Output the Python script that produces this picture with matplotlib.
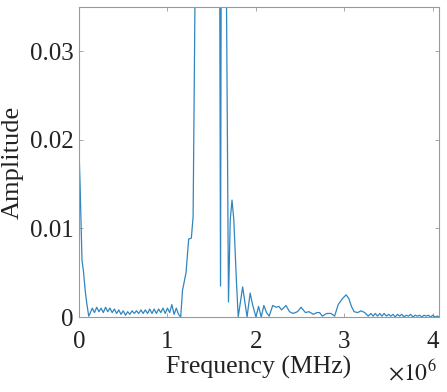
import numpy as np
import matplotlib.pyplot as plt

plt.rcParams['font.family'] = ['Liberation Serif', 'DejaVu Serif']
plt.rcParams['mathtext.fontset'] = 'stix'

# frequency in MHz, amplitude
f_low = [0.0, 0.012, 0.025, 0.034, 0.05, 0.07, 0.087, 0.11]
a_low = [0.0190, 0.0150, 0.0100, 0.0064, 0.0052, 0.0030, 0.0016, 0.0001]

f_noise = [0.125, 0.15, 0.175, 0.2, 0.225, 0.25, 0.275, 0.3, 0.325, 0.35,
           0.375, 0.4, 0.425, 0.45, 0.475, 0.5, 0.525, 0.55, 0.575, 0.6,
           0.625, 0.65, 0.675, 0.7, 0.725, 0.75, 0.775, 0.8, 0.825, 0.85,
           0.875, 0.9, 0.925, 0.95, 0.975, 1.0, 1.025, 1.05, 1.075, 1.1,
           1.125, 1.15]
a_noise = [0.0004, 0.0010, 0.0005, 0.0011, 0.0006, 0.0010, 0.0005, 0.0011, 0.0006, 0.0010,
           0.0005, 0.0009, 0.0004, 0.0008, 0.0003, 0.0007, 0.0002, 0.0006, 0.0003, 0.0007,
           0.0004, 0.0007, 0.0004, 0.0008, 0.0004, 0.0008, 0.0004, 0.0009, 0.0004, 0.0009,
           0.0004, 0.0009, 0.0005, 0.0010, 0.0004, 0.0010, 0.0005, 0.0014, 0.0003, 0.0010,
           0.0003, 0.0000]

f_peak = [1.17, 1.21, 1.24, 1.27, 1.29, 1.31, 1.35, 1.45, 1.55, 1.585,
          1.60, 1.612, 1.65, 1.668, 1.69, 1.71, 1.73, 1.75, 1.78, 1.80,
          1.85, 1.90, 1.935, 1.96, 2.0, 2.03, 2.06, 2.09, 2.12, 2.15,
          2.19, 2.23, 2.26, 2.29, 2.34, 2.38, 2.42, 2.47, 2.51, 2.56,
          2.6, 2.65, 2.69, 2.72, 2.75, 2.8, 2.85, 2.89, 2.93, 2.98,
          3.02, 3.05, 3.08, 3.11, 3.15, 3.19, 3.23, 3.27]
a_peak = [0.0030, 0.0050, 0.0088, 0.0089, 0.0113, 0.0350, 0.0600, 0.1000, 0.0600, 0.0600,
          0.0035, 0.0600, 0.0600, 0.0350, 0.0017, 0.0110, 0.0132, 0.0110, 0.0040, 0.0000,
          0.0034, 0.0000, 0.0027, 0.0015, 0.0000, 0.0012, 0.0000, 0.0013, 0.0005, 0.0001,
          0.0013, 0.0011, 0.0012, 0.0008, 0.0013, 0.0006, 0.0004, 0.0006, 0.0011, 0.0005,
          0.0006, 0.0003, 0.0005, 0.0005, 0.0001, 0.0004, 0.0004, 0.0001, 0.0014, 0.0021,
          0.0025, 0.0021, 0.0012, 0.0006, 0.0005, 0.0007, 0.0005, 0.0001]

f_tail = [3.3, 3.325, 3.35, 3.375, 3.4, 3.425, 3.45, 3.475, 3.5, 3.525,
          3.55, 3.575, 3.6, 3.625, 3.65, 3.675, 3.7, 3.725, 3.75, 3.775,
          3.8, 3.825, 3.85, 3.875, 3.9, 3.925, 3.95, 3.975, 4.0, 4.025,
          4.05, 4.07]
a_tail = [0.0004, 0.0001, 0.0004, 0.0001, 0.0004, 0.0001, 0.0004, 0.0001, 0.0003, 0.0001,
          0.0003, 0.0000, 0.0003, 0.0001, 0.0003, 0.0000, 0.0002, 0.0001, 0.0003, 0.0000,
          0.0002, 0.0001, 0.0002, 0.0000, 0.0002, 0.0001, 0.0002, 0.0000, 0.0002, 0.0000,
          0.0001, 0.0000]

freq = np.array(f_low + f_noise + f_peak + f_tail) * 1e6
amp = np.array(a_low + a_noise + a_peak + a_tail)

xticks = [0, 1e6, 2e6, 3e6, 4e6]
xticklabels = ['0', '1', '2', '3', '4']
yticks = [0, 0.01, 0.02, 0.03]
yticklabels = ['0', '0.01', '0.02', '0.03']

txt = '#222222'
fig = plt.figure(figsize=(4.47, 3.92), dpi=100)
ax = fig.add_axes([79/447, 1-317/392, 360/447, 310/392])
ax.plot(freq, amp, color='#2f86c0', lw=0.9)
ax.set_xlim(0, 4.07e6)
ax.set_ylim(0, 0.035)
ax.set_xticks(xticks)
ax.set_xticklabels(xticklabels)
ax.set_yticks(yticks)
ax.set_yticklabels(yticklabels)
ax.tick_params(direction='in', length=3, width=0.6, colors='#999999',
               labelcolor=txt, labelsize=18, top=True, right=True)
ax.tick_params(axis='x', pad=10)
ax.tick_params(axis='y', pad=4)
for s in ax.spines.values():
    s.set_color('#9a9a9a')
    s.set_linewidth(0.8)
ax.set_xlabel('Frequency (MHz)', fontsize=18.5, color=txt, labelpad=2)
ax.set_ylabel('Amplitude', fontsize=19, color=txt, labelpad=4)
ax.text(0.995, -0.18, r'$\times10^{6}$', transform=ax.transAxes, ha='right',
        va='center', fontsize=17, color=txt)

fig.savefig('out.png', dpi=100)
